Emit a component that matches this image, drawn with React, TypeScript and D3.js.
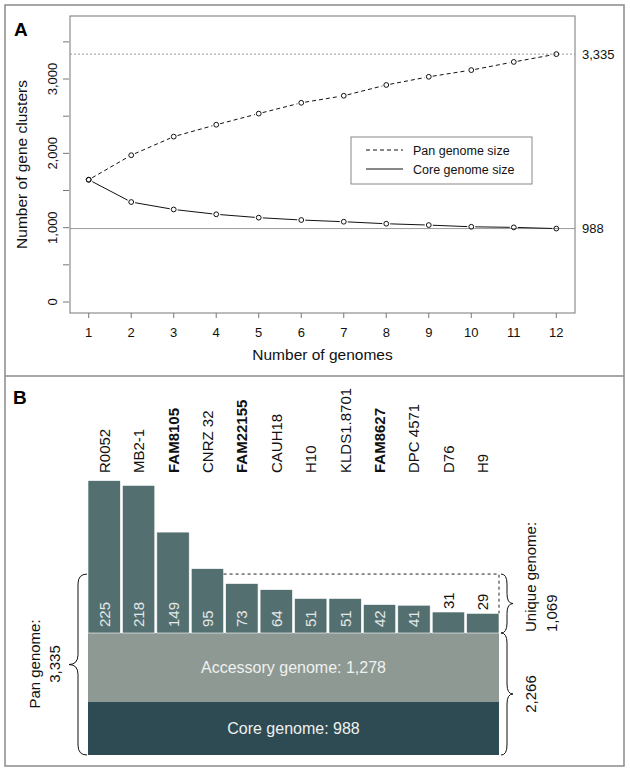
import React from 'react';
import * as d3 from 'd3';

// ---------- Panel A data ----------
const genomes = [1, 2, 3, 4, 5, 6, 7, 8, 9, 10, 11, 12];
const panSize = [1645, 1975, 2225, 2385, 2535, 2680, 2775, 2920, 3030, 3120, 3230, 3335];
const coreSize = [1645, 1345, 1245, 1180, 1135, 1103, 1080, 1053, 1035, 1012, 1004, 988];
const yTicks = [0, 500, 1000, 1500, 2000, 2500, 3000, 3500];
const yTickLabels = ['0', '', '1,000', '', '2,000', '', '3,000', ''];
const legendLabels = ['Pan genome size', 'Core genome size'];
const panFinal = 3335;
const coreFinal = 988;

// ---------- Panel B data ----------
const strains = ['R0052', 'MB2-1', 'FAM8105', 'CNRZ 32', 'FAM22155', 'CAUH18', 'H10', 'KLDS1.8701', 'FAM8627', 'DPC 4571', 'D76', 'H9'];
const boldStrains = ['FAM8105', 'FAM22155', 'FAM8627'];
const uniqueGenes = [225, 218, 149, 95, 73, 64, 51, 51, 42, 41, 31, 29];
const uniqueBracketLevel = 87;
const accessoryGenome = 1278;
const coreGenome = 988;
const sharedGenome = 2266;
const uniqueTotal = 1069;
const panTotal = 3335;

const FONT = "'Liberation Sans', Arial, Helvetica, sans-serif";

function bracePath(x: number, y1: number, y2: number, w: number): string {
  // w > 0 -> tip to the right; w < 0 -> tip to the left
  const mid = (y1 + y2) / 2;
  const h = w / 2;
  const q = Math.min(10, (y2 - y1) / 4);
  const p = d3.path();
  p.moveTo(x, y1);
  p.quadraticCurveTo(x + h, y1, x + h, y1 + q);
  p.lineTo(x + h, mid - q);
  p.quadraticCurveTo(x + h, mid, x + w, mid);
  p.quadraticCurveTo(x + h, mid, x + h, mid + q);
  p.lineTo(x + h, y2 - q);
  p.quadraticCurveTo(x + h, y2, x, y2);
  return p.toString();
}

function gappedSegments(xs: number[], ys: number[], gap: number) {
  const segs: { x1: number; y1: number; x2: number; y2: number }[] = [];
  for (let i = 0; i < xs.length - 1; i++) {
    const dx = xs[i + 1] - xs[i];
    const dy = ys[i + 1] - ys[i];
    const len = Math.hypot(dx, dy);
    if (len <= 2 * gap) continue;
    const ux = dx / len, uy = dy / len;
    segs.push({ x1: xs[i] + ux * gap, y1: ys[i] + uy * gap, x2: xs[i + 1] - ux * gap, y2: ys[i + 1] - uy * gap });
  }
  return segs;
}

export default function App() {
  const W = 630, H = 771;

  // Panel A scales
  const xA = d3.scaleLinear().domain([0.56, 12.44]).range([70, 575]);
  const yA = d3.scaleLinear().domain([-148, 3848]).range([313, 16]);
  const pxs = genomes.map((g) => xA(g));
  const panYs = panSize.map((v) => yA(v));
  const coreYs = coreSize.map((v) => yA(v));
  const panSegs = gappedSegments(pxs, panYs, 4);
  const coreSegs = gappedSegments(pxs, coreYs, 4);

  // Panel B scales
  const xB = d3.scaleBand<string>().domain(strains).range([88, 499]).paddingInner(0.06).paddingOuter(0);
  const yU = d3.scaleLinear().domain([0, 225]).range([633, 480.6]);
  const yBase = d3.scaleLinear().domain([0, sharedGenome]).range([633, 755]);
  const bw = xB.bandwidth();
  const left = 88, right = 499;

  // dashed bracket start: right edge of last bar taller than the bracket level
  let lastTall = 0;
  uniqueGenes.forEach((v, i) => { if (v > uniqueBracketLevel) lastTall = i; });
  const bracketX0 = (xB(strains[lastTall]) as number) + bw;
  const bracketY = yU(uniqueBracketLevel);

  const barColor = '#536f70';
  const accColor = '#8e9994';
  const coreColor = '#2e4a52';

  return (
    <svg width={W} height={H} style={{ position: 'absolute', left: 0, top: 0, background: '#fff' }} fontFamily={FONT}>
      {/* outer frame and divider */}
      <rect x={5} y={5} width={619} height={761} fill="none" stroke="#8a8a8a" strokeWidth={1.5} />
      <line x1={5} x2={624} y1={376} y2={376} stroke="#8a8a8a" strokeWidth={1.5} />

      {/* ---------------- Panel A ---------------- */}
      <text x={14} y={36} fontSize={19} fontWeight="bold" fill="#000">A</text>
      {/* reference lines */}
      <line x1={70} x2={575} y1={yA(panFinal)} y2={yA(panFinal)} stroke="#9a9a9a" strokeWidth={1} strokeDasharray="2,2" />
      <line x1={70} x2={575} y1={yA(coreFinal)} y2={yA(coreFinal)} stroke="#9a9a9a" strokeWidth={1} />
      <text x={582} y={yA(panFinal) + 4.5} fontSize={13} fill="#111">3,335</text>
      <text x={582} y={yA(coreFinal) + 4.5} fontSize={13} fill="#111">988</text>
      {/* plot box */}
      <rect x={70} y={16} width={505} height={297} fill="none" stroke="#777" strokeWidth={1} />
      {/* y ticks */}
      {yTicks.map((t, i) => (
        <g key={'yt' + t}>
          <line x1={63} x2={69} y1={yA(t)} y2={yA(t)} stroke="#777" strokeWidth={1} />
          {yTickLabels[i] && (
            <text transform={`translate(57,${yA(t)}) rotate(-90)`} textAnchor="middle" fontSize={13} fill="#111">{yTickLabels[i]}</text>
          )}
        </g>
      ))}
      {/* x ticks */}
      {genomes.map((g) => (
        <g key={'xt' + g}>
          <line x1={xA(g)} x2={xA(g)} y1={313} y2={318} stroke="#777" strokeWidth={1} />
          <text x={xA(g)} y={337} textAnchor="middle" fontSize={13} fill="#111">{g}</text>
        </g>
      ))}
      <text x={xA(6.5)} y={360} textAnchor="middle" fontSize={15.5} fill="#111">Number of genomes</text>
      <text transform={`translate(27,${(16 + 313) / 2}) rotate(-90)`} textAnchor="middle" fontSize={15.5} fill="#111">Number of gene clusters</text>
      {/* lines */}
      {panSegs.map((s, i) => (
        <line key={'ps' + i} x1={s.x1} y1={s.y1} x2={s.x2} y2={s.y2} stroke="#111" strokeWidth={1} strokeDasharray="4,3" />
      ))}
      {coreSegs.map((s, i) => (
        <line key={'cs' + i} x1={s.x1} y1={s.y1} x2={s.x2} y2={s.y2} stroke="#111" strokeWidth={1} />
      ))}
      {genomes.map((g, i) => (
        <circle key={'pp' + g} cx={pxs[i]} cy={panYs[i]} r={2.4} fill="none" stroke="#111" strokeWidth={1} />
      ))}
      {genomes.map((g, i) => (
        <circle key={'cp' + g} cx={pxs[i]} cy={coreYs[i]} r={2.4} fill="none" stroke="#111" strokeWidth={1} />
      ))}
      {/* legend */}
      <rect x={351} y={137} width={181} height={47} fill="#fff" stroke="#888" strokeWidth={1} />
      <line x1={366} x2={403} y1={150} y2={150} stroke="#111" strokeWidth={1} strokeDasharray="4,3" />
      <line x1={366} x2={403} y1={169} y2={169} stroke="#111" strokeWidth={1} />
      <text x={413} y={154.5} fontSize={12.5} fill="#111">{legendLabels[0]}</text>
      <text x={413} y={173.5} fontSize={12.5} fill="#111">{legendLabels[1]}</text>

      {/* ---------------- Panel B ---------------- */}
      <text x={13} y={404} fontSize={19} fontWeight="bold" fill="#000">B</text>
      {/* strain labels */}
      {strains.map((s) => {
        const cx = (xB(s) as number) + bw / 2;
        return (
          <text key={'lab' + s} transform={`translate(${cx + 5.5},473) rotate(-90)`} fontSize={15} fill="#111"
            fontWeight={boldStrains.includes(s) ? 'bold' : 'normal'}>{s}</text>
        );
      })}
      {/* base bands */}
      <rect x={left} y={yBase(0)} width={right - left} height={yBase(accessoryGenome) - yBase(0)} fill={accColor} />
      <rect x={left} y={yBase(accessoryGenome)} width={right - left} height={yBase(sharedGenome) - yBase(accessoryGenome)} fill={coreColor} />
      <text x={(left + right) / 2} y={(yBase(0) + yBase(accessoryGenome)) / 2 + 5.5} textAnchor="middle" fontSize={16} fill="#eef1ef">
        {`Accessory genome: ${d3.format(',')(accessoryGenome)}`}
      </text>
      <text x={(left + right) / 2} y={(yBase(accessoryGenome) + yBase(sharedGenome)) / 2 + 5.5} textAnchor="middle" fontSize={16} fill="#eef1ef">
        {`Core genome: ${d3.format(',')(coreGenome)}`}
      </text>
      {/* unique bars */}
      {strains.map((s, i) => (
        <rect key={'bar' + s} x={xB(s) as number} y={yU(uniqueGenes[i])} width={bw} height={yU(0) - yU(uniqueGenes[i])}
          fill={barColor} stroke="#ffffff" strokeWidth={0.6} />
      ))}
      {/* value labels */}
      {strains.map((s, i) => {
        const cx = (xB(s) as number) + bw / 2;
        const v = uniqueGenes[i];
        const inside = v >= 40;
        const y0 = inside ? yU(0) - 6 : yU(v) - 3;
        return (
          <text key={'val' + s} transform={`translate(${cx + 5.5},${y0}) rotate(-90)`} fontSize={15}
            fill={inside ? '#e3e8e8' : '#111'}>{v}</text>
        );
      })}
      {/* dashed bracket */}
      <path d={`M${bracketX0},${bracketY}H${right}V${yU(uniqueGenes[uniqueGenes.length - 1])}`} fill="none" stroke="#222" strokeWidth={1} strokeDasharray="3,3" />
      {/* braces */}
      <path d={bracePath(501, bracketY, yU(0), 12)} fill="none" stroke="#111" strokeWidth={1} />
      <path d={bracePath(501, yBase(0), yBase(sharedGenome), 12)} fill="none" stroke="#111" strokeWidth={1} />
      <path d={bracePath(87, bracketY, yBase(sharedGenome), -18)} fill="none" stroke="#111" strokeWidth={1} />
      {/* brace labels */}
      <text transform={`translate(536,632) rotate(-90)`} fontSize={15} fill="#111">Unique genome:</text>
      <text transform={`translate(557,632) rotate(-90)`} fontSize={15} fill="#111">{d3.format(',')(uniqueTotal)}</text>
      <text transform={`translate(536,${(yBase(0) + yBase(sharedGenome)) / 2}) rotate(-90)`} textAnchor="middle" fontSize={15} fill="#111">{d3.format(',')(sharedGenome)}</text>
      <text transform={`translate(40,664) rotate(-90)`} textAnchor="middle" fontSize={15} fill="#111">Pan genome:</text>
      <text transform={`translate(60,664) rotate(-90)`} textAnchor="middle" fontSize={15} fill="#111">{d3.format(',')(panTotal)}</text>
    </svg>
  );
}
